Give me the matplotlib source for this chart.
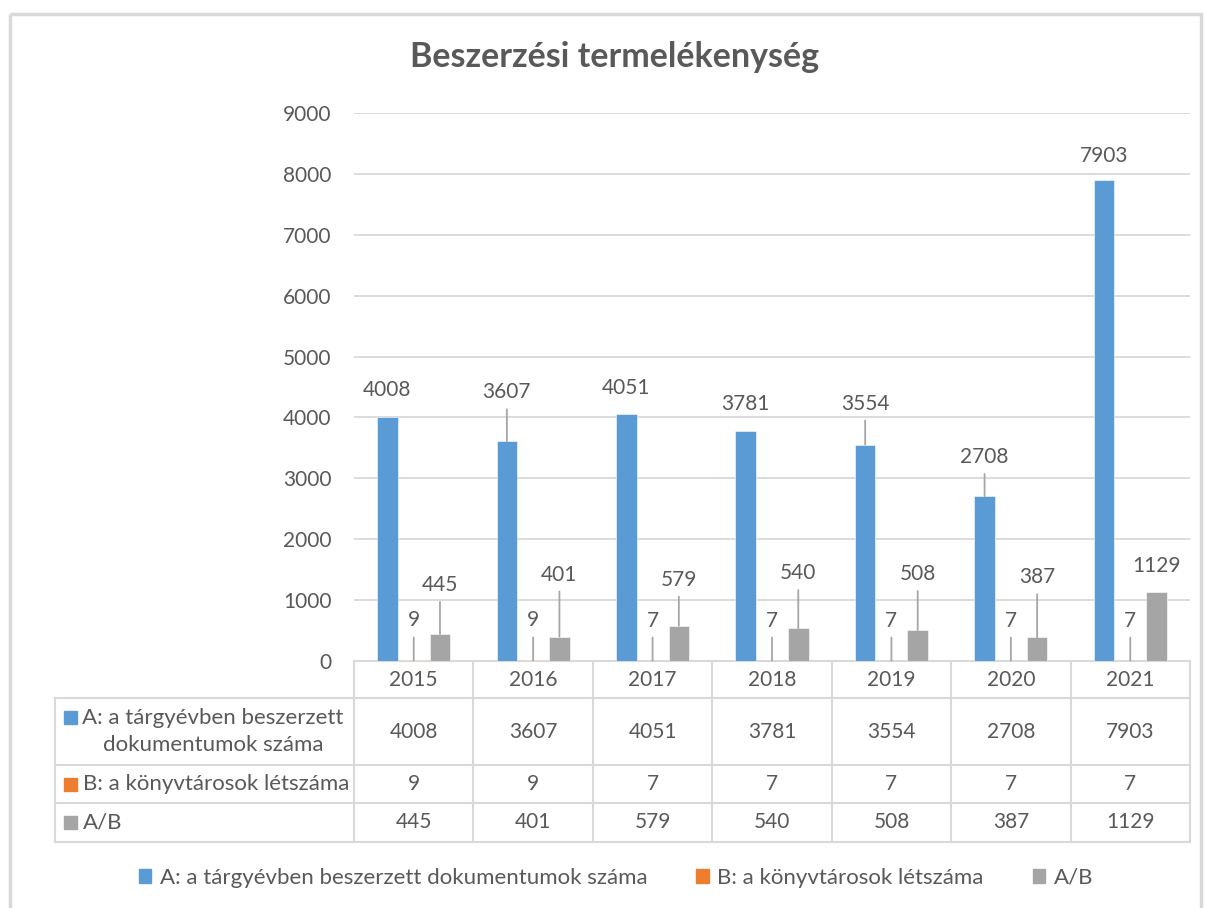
import matplotlib.pyplot as plt
from matplotlib.patches import Rectangle
from matplotlib.lines import Line2D

plt.rcParams['font.family'] = ['Lato', 'DejaVu Sans']

# data
years = ['2015', '2016', '2017', '2018', '2019', '2020', '2021']
series_names = ['A: a tárgyévben beszerzett dokumentumok száma',
                'B: a könyvtárosok létszáma',
                'A/B']
table_names = ['A: a tárgyévben beszerzett\ndokumentumok száma',
               'B: a könyvtárosok létszáma',
               'A/B']
docs = [4008, 3607, 4051, 3781, 3554, 2708, 7903]
staff = [9, 9, 7, 7, 7, 7, 7]
ratio = [445, 401, 579, 540, 508, 387, 1129]

# styling / label placement (pixels above bar top)
colors = ['#5B9BD5', '#ED7D31', '#A5A5A5']
label_off = [[27, 49, 26, 27, 41, 39, 24],
             [40, 40, 40, 40, 40, 40, 40],
             [49, 62, 46, 55, 56, 60, 26]]
txt = '#595959'
grid_c = '#D9D9D9'
lead_c = '#A6A6A6'
fs = 15      # numbers
fs_t = 16    # words

W, H = 1206, 908
fig = plt.figure(figsize=(W / 100, H / 100), dpi=100)

# pixel-space overlay for frame, title, table
ov = fig.add_axes([0, 0, 1, 1])
ov.set_xlim(0, W)
ov.set_ylim(H, 0)
ov.axis('off')

px_l, px_r, px_top, px_bot = 354, 1190, 113, 661
ax = fig.add_axes([px_l / W, (H - px_bot) / H, (px_r - px_l) / W, (px_bot - px_top) / H])
ax.set_zorder(2)
ax.patch.set_alpha(0)

n = len(years)
xs = list(range(n))
width = 0.172
offsets = [-0.22, 0.0, 0.22]
values = [docs, staff, ratio]

for vals, off, col, loffs in zip(values, offsets, colors, label_off):
    pos = [x + off for x in xs]
    ax.bar(pos, vals, width, color=col, edgecolor='white', linewidth=0.4, zorder=3)
    for p, v, lo in zip(pos, vals, loffs):
        props = None
        if lo > 35:
            props = dict(arrowstyle='-', color=lead_c, lw=1.3, shrinkA=3, shrinkB=0)
        ax.annotate(str(v), xy=(p, v), xytext=(0, lo), textcoords='offset pixels',
                    ha='center', va='center', fontsize=fs, color=txt,
                    arrowprops=props, zorder=4)

ax.set_xlim(-0.5, n - 0.5)
ax.set_ylim(0, 9000)
ax.set_yticks(range(0, 9001, 1000))
ax.set_xticks([])
ax.tick_params(axis='y', length=0, pad=16, labelsize=fs, labelcolor=txt)
ax.grid(axis='y', color=grid_c, linewidth=1.3, zorder=0)
for s in ax.spines.values():
    s.set_visible(False)

# frame
ov.add_patch(Rectangle((9.5, 13.5), 1191, 910, fill=False, edgecolor=grid_c, linewidth=2.5))

# title
ov.text(615, 67, 'Beszerzési termelékenység', ha='center', va='baseline',
        fontsize=24.5, fontweight='bold', color=txt)

# data table
tab_l = 55
col_w = (px_r - px_l) / n
rows_y = [661, 698, 765, 803, 842]
lw = 1.5
ov.add_line(Line2D([px_l, px_r], [rows_y[0], rows_y[0]], color=grid_c, lw=lw))
for y in rows_y[1:]:
    ov.add_line(Line2D([tab_l, px_r], [y, y], color=grid_c, lw=lw))
ov.add_line(Line2D([tab_l, tab_l], [rows_y[1], rows_y[-1]], color=grid_c, lw=lw))
for i in range(n + 1):
    x = px_l + i * col_w
    ov.add_line(Line2D([x, x], [rows_y[0], rows_y[-1]], color=grid_c, lw=lw))

for i, yr in enumerate(years):
    ov.text(px_l + (i + 0.5) * col_w, (rows_y[0] + rows_y[1]) / 2, yr,
            ha='center', va='center', fontsize=fs, color=txt)

for r, (name, vals, col) in enumerate(zip(table_names, values, colors)):
    yc = (rows_y[r + 1] + rows_y[r + 2]) / 2
    ov.add_patch(Rectangle((64, yc - 6.5 - (14 if r == 0 else 0)), 13, 13, color=col))
    if r == 0:
        ov.text(213, yc, name, ha='center', va='center', fontsize=fs_t, color=txt,
                linespacing=1.4)
    else:
        ov.text(83, yc, name, ha='left', va='center', fontsize=fs_t, color=txt)
    for i, v in enumerate(vals):
        ov.text(px_l + (i + 0.5) * col_w, yc, str(v), ha='center', va='center',
                fontsize=fs, color=txt)

# bottom legend
handles = [Rectangle((0, 0), 1, 1, color=c) for c in colors]
fig.legend(handles, series_names, loc='center', bbox_to_anchor=(616 / W, 1 - 878 / H),
           ncol=3, frameon=False, fontsize=fs_t, labelcolor=txt, handlelength=0.55,
           handleheight=0.55, handletextpad=0.4, columnspacing=2.2)

fig.savefig('out.png', dpi=100)
